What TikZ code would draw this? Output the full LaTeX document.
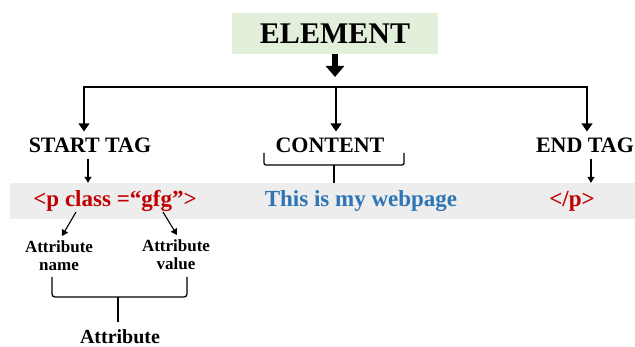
\documentclass[tikz,border=0pt]{standalone}
\usepackage{fontspec}
\setmainfont{Liberation Serif}
\usetikzlibrary{arrows.meta}

\definecolor{elemgreen}{HTML}{E2EFDA}
\definecolor{bandgray}{HTML}{EDEDED}
\definecolor{tagred}{HTML}{C00000}
\definecolor{webblue}{HTML}{2E75B6}

\begin{document}
\begin{tikzpicture}[x=1pt, y=-1pt,
        heading/.style={font=\fontsize{22}{24}\selectfont\bfseries, inner xsep=0pt, inner ysep=6pt},
        code/.style={font=\fontsize{23}{25}\selectfont\bfseries, inner sep=0pt, minimum height=36pt},
        note/.style={font=\fontsize{17}{18}\selectfont\bfseries, align=center, inner xsep=1pt, inner ysep=5pt, anchor=north},
        line/.style={line width=1.3pt},
        tip/.style={line width=1.3pt, -{Triangle[length=8pt,width=11pt]}},
        smalltip/.style={line width=1.1pt, -{Triangle[length=6pt,width=7pt]}}]
        \useasboundingbox (0,0) rectangle (635,347);

        % Grey strip behind the markup
        \fill[bandgray] (10,183) rectangle (635,219);

        % Top box
        \node[fill=elemgreen, minimum width=206pt, minimum height=41pt,
              font=\fontsize{30}{32}\selectfont\bfseries] (element) at (335,33.5) {ELEMENT};
        \coordinate (arrowend) at (335,77);
        \draw[line width=6pt, -{Triangle[length=11pt,width=18pt]}] (element.south) -- (arrowend);

        % Three parts of an element
        \coordinate (hub) at (336,87);
        \node[heading] (starttag) at (90,145) {START TAG};
        \node[heading] (content) at (330,145) {CONTENT};
        \node[heading] (endtag) at (585,145) {END TAG};
        \draw[tip] (hub) -| ([xshift=-6pt]starttag.north);
        \draw[tip] (hub) -- (hub |- content.north);
        \draw[tip] (hub) -| ([xshift=2pt]endtag.north);

        % Markup line
        \node[code, text=tagred] (tagopen) at (115,201) {<p class =“gfg”>};
        \node[code, text=webblue] (webpage) at (361,201) {This is my webpage};
        \node[code, text=tagred] (tagclose) at (572,201) {</p>};
        \draw[smalltip] ([xshift=-2pt]starttag.south) -- ([xshift=-2pt]starttag.south |- tagopen.north);
        \draw[smalltip] ([xshift=6pt]endtag.south) -- ([xshift=6pt]endtag.south |- tagclose.north);

        % Bracket under CONTENT
        \draw[line, rounded corners=2pt] (264,153) |- (404,165) -- (404,153);
        \coordinate (contentbrace) at (334,165);
        \draw[line] (contentbrace) -- (contentbrace |- webpage.north);

        % Attribute parts
        \node[note] (attrname) at (59,236) {Attribute\\name};
        \node[note] (attrvalue) at (176,235) {Attribute\\value};
        \coordinate (classword) at (76,212);
        \coordinate (gfgword) at (163,212);
        \draw[smalltip] (classword) -- ([xshift=3pt]attrname.north);
        \draw[smalltip] (gfgword) -- ([xshift=1pt]attrvalue.north);

        % Bracket under both parts
        \node[font=\fontsize{20}{22}\selectfont\bfseries, inner ysep=8pt] (attribute) at (120,337) {Attribute};
        \draw[line, rounded corners=3pt] (52,277) |- (187,297) -- (187,277);
        \coordinate (attrbrace) at (118,297);
        \draw[line] (attrbrace) -- (attrbrace |- attribute.north);
\end{tikzpicture}
\end{document}
